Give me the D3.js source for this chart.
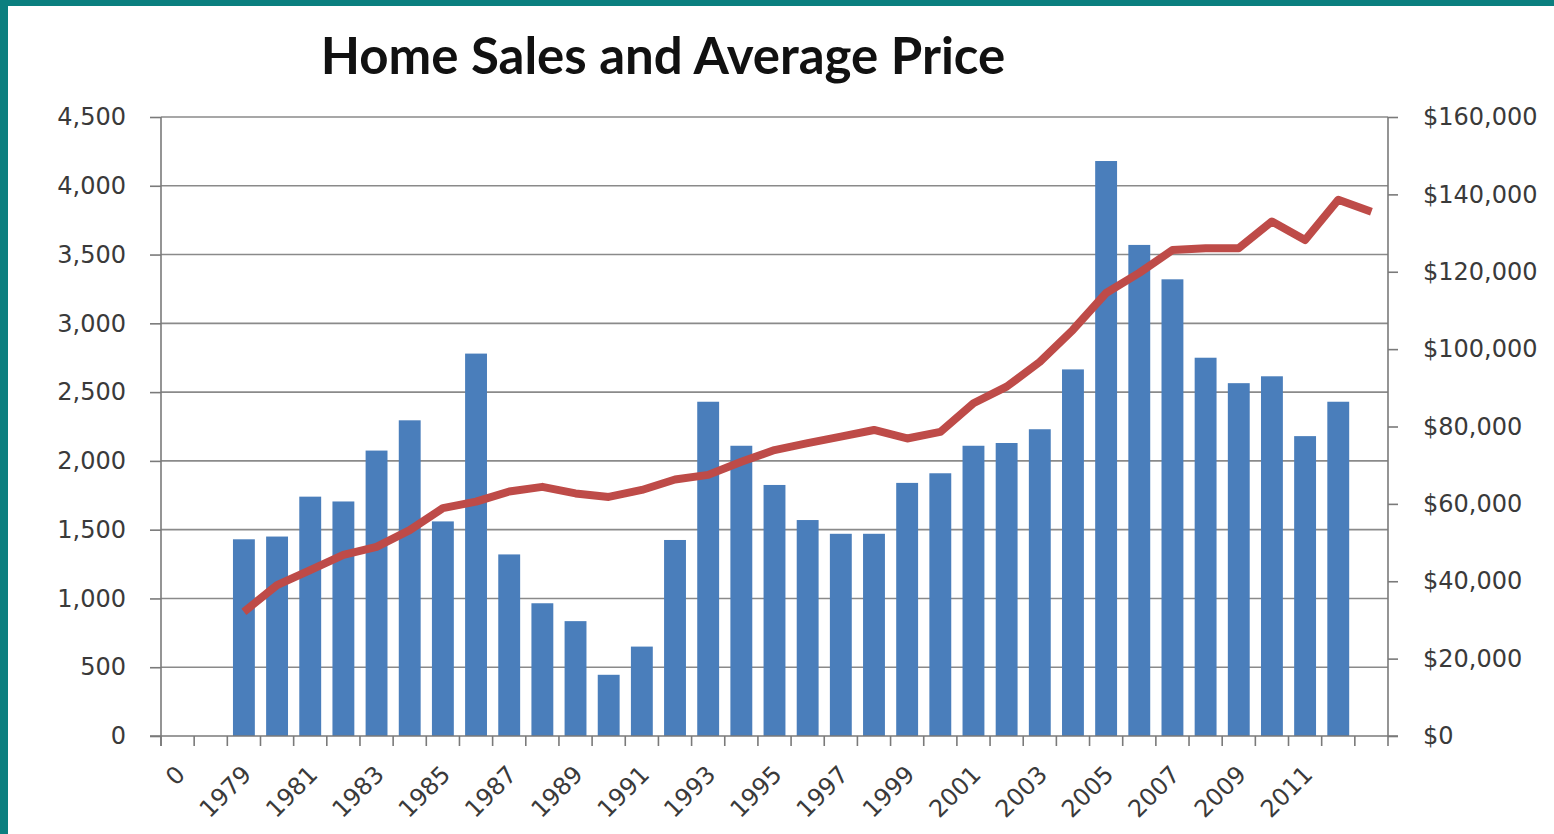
<!DOCTYPE html>
<html>
<head>
<meta charset="utf-8">
<script src="https://cdn.jsdelivr.net/npm/d3@7"></script>
<style>
  html, body { margin: 0; padding: 0; background: #ffffff; }
  svg { display: block; }
</style>
</head>
<body>
<svg id="chart" width="1554" height="834"></svg>
<script>
// Category slots along the x axis (first two and last carry no bar)
const categories = ["0", "1978", "1979", "1980", "1981", "1982", "1983", "1984", "1985", "1986",
  "1987", "1988", "1989", "1990", "1991", "1992", "1993", "1994", "1995", "1996",
  "1997", "1998", "1999", "2000", "2001", "2002", "2003", "2004", "2005", "2006",
  "2007", "2008", "2009", "2010", "2011", "2012", "2013"];

// Labels printed under the x axis (every other slot)
const tickLabels = ["0", "1979", "1981", "1983", "1985", "1987", "1989", "1991", "1993",
  "1995", "1997", "1999", "2001", "2003", "2005", "2007", "2009", "2011"];

// Home sales, 1979-2012
const salesYears = ["1979", "1980", "1981", "1982", "1983", "1984", "1985", "1986", "1987",
  "1988", "1989", "1990", "1991", "1992", "1993", "1994", "1995", "1996", "1997", "1998",
  "1999", "2000", "2001", "2002", "2003", "2004", "2005", "2006", "2007", "2008", "2009",
  "2010", "2011", "2012"];
const sales = [1430, 1450, 1740, 1705, 2075, 2295, 1560, 2780, 1320, 965, 835, 445, 650,
  1425, 2430, 2110, 1825, 1570, 1470, 1470, 1840, 1910, 2110, 2130, 2230, 2665, 4180,
  3570, 3320, 2750, 2565, 2615, 2180, 2430];

// Average price, 1979-2013
const priceYears = salesYears.concat(["2013"]);
const avgPrice = [32100, 39000, 42900, 46800, 48900, 53200, 58900, 60600, 63200, 64400,
  62700, 61800, 63600, 66300, 67500, 70900, 73900, 75700, 77400, 79100, 76900, 78600,
  86000, 90300, 96700, 105000, 114500, 119700, 125600, 126100, 126100, 133000, 128200,
  138600, 135500];

const salesTicks = [0, 500, 1000, 1500, 2000, 2500, 3000, 3500, 4000, 4500];
const priceTicks = [0, 20000, 40000, 60000, 80000, 100000, 120000, 140000, 160000];

const svg = d3.select("#chart");
const W = 1554, H = 834;
const plot = { left: 161, right: 1388, top: 117, bottom: 736 };
const labelFont = "'DejaVu Sans', Verdana, sans-serif";
const textColor = "#3a3a3a";
const axisColor = "#7a7a7a";

// Frame: teal band on top and left
svg.append("rect").attr("x", 0).attr("y", 0).attr("width", W).attr("height", H).attr("fill", "#ffffff");
svg.append("rect").attr("x", 0).attr("y", 0).attr("width", W).attr("height", 6).attr("fill", "#0b7f7f");
svg.append("rect").attr("x", 0).attr("y", 0).attr("width", 8).attr("height", H).attr("fill", "#0b7f7f");

// Scales
const padInner = 0.34;
const x = d3.scaleBand().domain(categories).range([plot.left, plot.right])
  .paddingInner(padInner).paddingOuter(padInner / 2);
const step = x.step();
const yL = d3.scaleLinear().domain([0, 4500]).range([plot.bottom, plot.top]);
const yR = d3.scaleLinear().domain([0, 160000]).range([plot.bottom, plot.top]);

// Horizontal gridlines
svg.append("g").selectAll("line").data(salesTicks.filter(d => d > 0)).join("line")
  .attr("x1", plot.left).attr("x2", plot.right)
  .attr("y1", d => yL(d)).attr("y2", d => yL(d))
  .attr("stroke", "#8a8a8a").attr("stroke-width", 1.6);

// Bars
svg.append("g").selectAll("rect").data(salesYears.map((c, i) => ({ c, v: sales[i] }))).join("rect")
  .attr("x", d => x(d.c)).attr("width", x.bandwidth())
  .attr("y", d => yL(d.v)).attr("height", d => yL(0) - yL(d.v))
  .attr("fill", "#4a7ebb");

// Average price line
const line = d3.line()
  .x(d => x(d.c) + x.bandwidth() / 2)
  .y(d => yR(d.v));
svg.append("path")
  .datum(priceYears.map((c, i) => ({ c, v: avgPrice[i] })))
  .attr("d", line)
  .attr("fill", "none")
  .attr("stroke", "#be4b48")
  .attr("stroke-width", 8)
  .attr("stroke-linejoin", "round")
  .attr("stroke-linecap", "butt");

// Left axis
const axL = svg.append("g").attr("transform", `translate(${plot.left},0)`)
  .call(d3.axisLeft(yL).tickValues(salesTicks).tickSize(11).tickPadding(24)
    .tickFormat(d3.format(",")));
axL.select(".domain").attr("stroke", axisColor).attr("stroke-width", 1.6)
  .attr("d", `M0,${plot.top}V${plot.bottom + 10}`);
axL.selectAll(".tick line").attr("stroke", axisColor).attr("stroke-width", 1.6);
axL.selectAll("text").attr("font-family", labelFont).attr("font-size", 24).attr("fill", textColor);

// Right axis
const axR = svg.append("g").attr("transform", `translate(${plot.right},0)`)
  .call(d3.axisRight(yR).tickValues(priceTicks).tickSize(10).tickPadding(25)
    .tickFormat(d => "$" + d3.format(",")(d)));
axR.select(".domain").attr("stroke", axisColor).attr("stroke-width", 1.6)
  .attr("d", `M0,${plot.top}V${plot.bottom}`);
axR.selectAll(".tick line").attr("stroke", axisColor).attr("stroke-width", 1.6);
axR.selectAll("text").attr("font-family", labelFont).attr("font-size", 24).attr("fill", textColor);

// Bottom axis: baseline and ticks at slot boundaries
const gx = svg.append("g");
gx.append("line").attr("x1", plot.left - 11).attr("x2", plot.right + 10)
  .attr("y1", plot.bottom).attr("y2", plot.bottom)
  .attr("stroke", axisColor).attr("stroke-width", 1.6);
const boundaries = categories.map(c => x(c) - step * padInner / 2).concat([plot.right]);
gx.selectAll("line.tk").data(boundaries).join("line").attr("class", "tk")
  .attr("x1", d => d).attr("x2", d => d)
  .attr("y1", plot.bottom).attr("y2", plot.bottom + 10)
  .attr("stroke", axisColor).attr("stroke-width", 1.6);
gx.selectAll("text").data(tickLabels).join("text")
  .attr("transform", d => `translate(${x(d) + x.bandwidth() / 2 - 3},${plot.bottom + 28}) rotate(-45)`)
  .attr("text-anchor", "end")
  .attr("dy", "0.7em")
  .attr("font-family", labelFont).attr("font-size", 24).attr("fill", textColor)
  .text(d => d);

// Title
svg.append("text")
  .attr("x", 663).attr("y", 74)
  .attr("text-anchor", "middle")
  .attr("font-family", "Lato, 'Open Sans', sans-serif")
  .attr("font-weight", "bold")
  .attr("font-size", 51)
  .attr("fill", "#111111")
  .text("Home Sales and Average Price");
</script>
</body>
</html>
